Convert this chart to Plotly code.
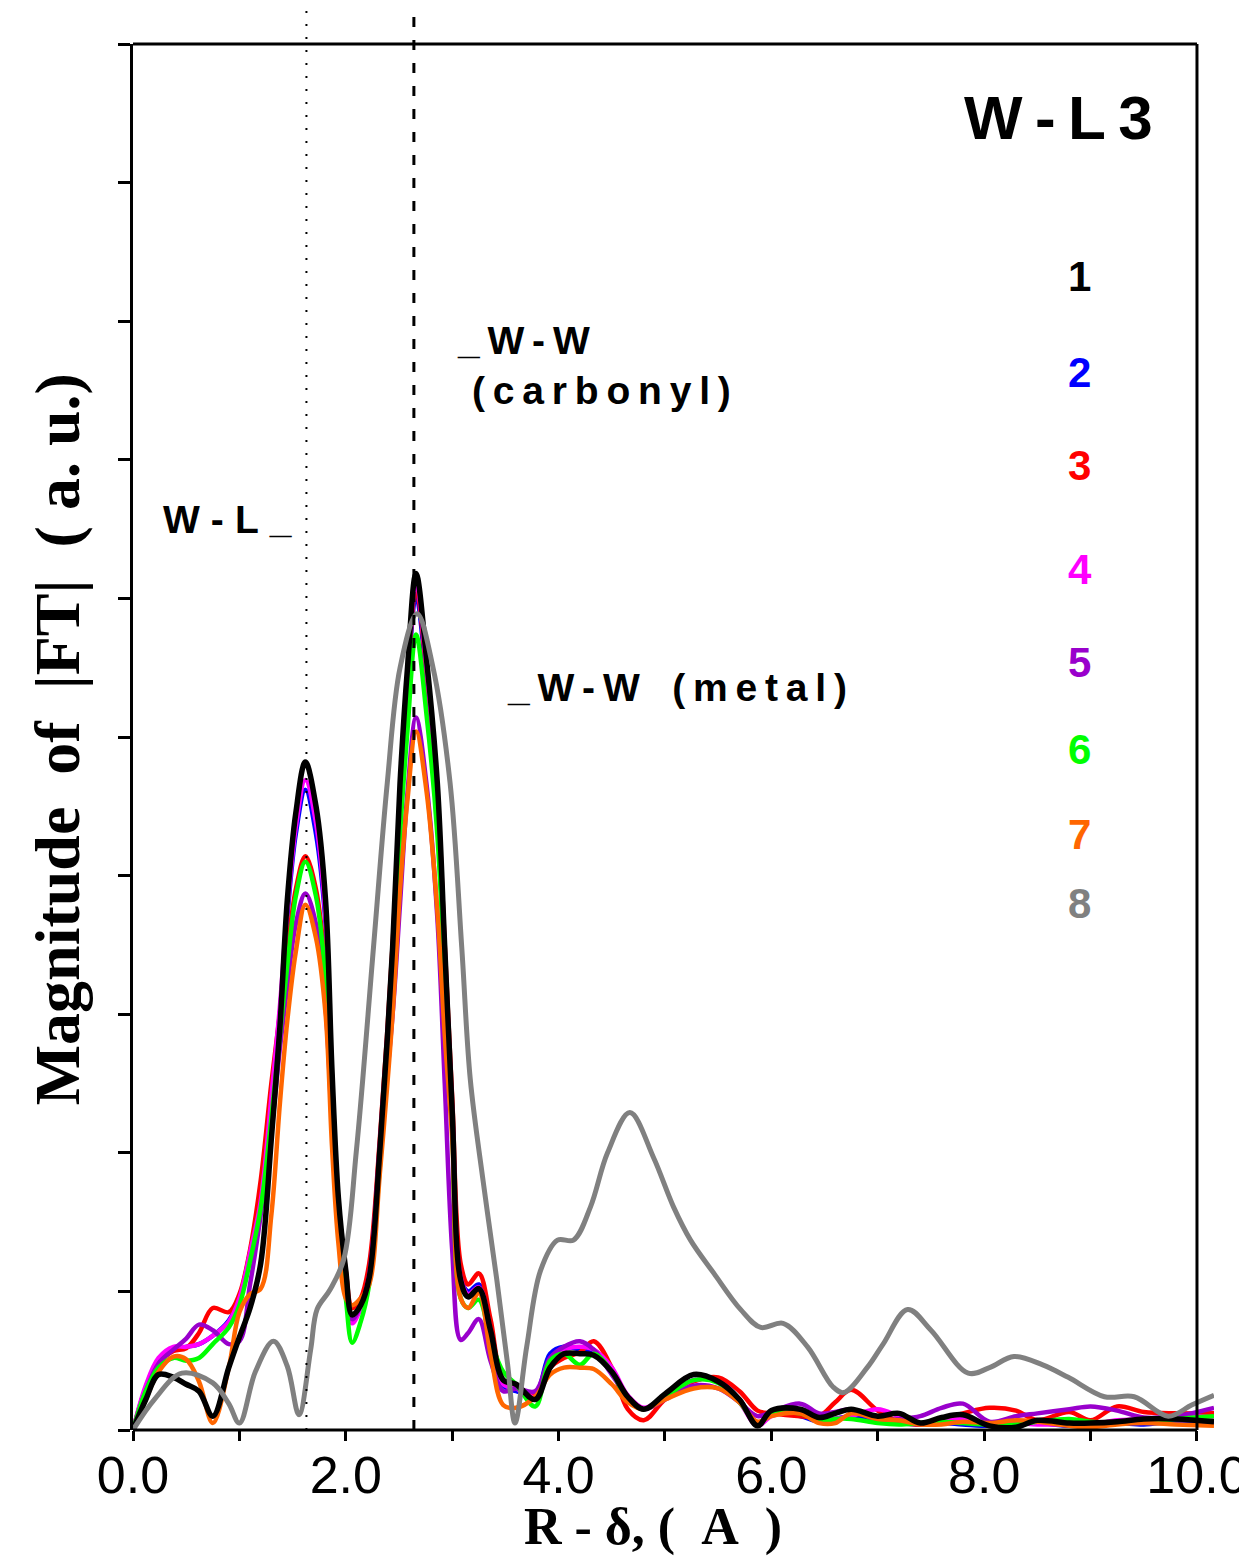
import plotly.graph_objects as go

# ---------------- data ----------------
R_grid = [0, 0.12, 0.24, 0.38, 0.5, 0.62, 0.75, 0.9, 1.0, 1.1, 1.2, 1.3,
          1.38, 1.45, 1.53, 1.62, 1.72, 1.81, 1.87, 1.93, 2.0,
          2.06, 2.14, 2.22, 2.32, 2.44, 2.51, 2.58, 2.66, 2.76, 2.86, 2.93, 3.0, 3.08,
          3.15, 3.25, 3.36, 3.48, 3.6, 3.78, 3.92, 4.05, 4.2, 4.33, 4.5, 4.65, 4.8,
          5.0, 5.27, 5.5, 5.7, 5.87, 6.0, 6.27, 6.45, 6.6, 6.75, 7.0, 7.2, 7.4, 7.6,
          7.8, 8.05, 8.3, 8.5, 8.8, 9.0, 9.25, 9.5, 9.8, 10.16]

ft1 = [0, 0.22, 0.40, 0.38, 0.33, 0.28, 0.10, 0.45, 0.67, 0.88, 1.2, 2.1,
       2.9, 3.82, 4.45, 4.82, 4.5, 3.82, 2.6, 1.68, 1.15,
       0.83, 0.9, 1.1, 2.02, 3.48, 4.67, 5.5, 6.18, 5.55, 4.67, 3.48, 2.3, 1.08,
       0.96, 1.02, 0.72, 0.36, 0.33, 0.22, 0.45, 0.55, 0.55, 0.54, 0.42, 0.24, 0.15,
       0.26, 0.4, 0.35, 0.22, 0.03, 0.14, 0.15, 0.09, 0.12, 0.15, 0.1, 0.12, 0.05, 0.09,
       0.11, 0.03, 0.02, 0.07, 0.05, 0.05, 0.06, 0.08, 0.08, 0.06]

ft2 = [0, 0.3, 0.5, 0.58, 0.6, 0.62, 0.68, 0.79, 0.95, 1.28, 1.7, 2.4,
       3.0, 3.7, 4.3, 4.62, 4.3, 3.65, 2.5, 1.6, 1.1,
       0.8, 0.9, 1.15, 2.0, 3.4, 4.5, 5.35, 6.02, 5.4, 4.55, 3.4, 2.3, 1.1,
       1.0, 1.05, 0.72, 0.32, 0.28, 0.26, 0.55, 0.6, 0.58, 0.55, 0.42, 0.24, 0.15,
       0.24, 0.36, 0.36, 0.22, 0.05, 0.12, 0.1, 0.06, 0.08, 0.1, 0.06, 0.05, 0.04, 0.05,
       0.04, 0.03, 0.04, 0.05, 0.03, 0.04, 0.05, 0.04, 0.06, 0.05]

ft3 = [0, 0.3, 0.48, 0.57, 0.59, 0.7, 0.88, 0.85, 0.98, 1.3, 1.8, 2.5,
       3.0, 3.45, 3.9, 4.14, 3.9, 3.3, 2.4, 1.6, 1.15,
       0.88, 0.95, 1.2, 2.1, 3.5, 4.55, 5.4, 6.07, 5.45, 4.6, 3.5, 2.4, 1.2,
       1.05, 1.13, 0.8, 0.36, 0.32, 0.25, 0.45, 0.52, 0.56, 0.64, 0.45, 0.15, 0.07,
       0.22, 0.35, 0.38, 0.28, 0.14, 0.12, 0.1, 0.1, 0.2, 0.29, 0.14, 0.06, 0.04, 0.08,
       0.12, 0.16, 0.14, 0.07, 0.13, 0.07, 0.17, 0.13, 0.12, 0.12]

ft4 = [0, 0.32, 0.52, 0.6, 0.6, 0.62, 0.68, 0.78, 0.95, 1.28, 1.65, 2.4,
       3.05, 3.75, 4.35, 4.69, 4.38, 3.7, 2.55, 1.62, 1.08,
       0.77, 0.88, 1.12, 2.05, 3.45, 4.55, 5.42, 6.12, 5.48, 4.6, 3.45, 2.3, 1.1,
       0.98, 1.03, 0.72, 0.33, 0.3, 0.24, 0.5, 0.58, 0.6, 0.58, 0.45, 0.25, 0.16,
       0.24, 0.36, 0.35, 0.2, 0.03, 0.1, 0.13, 0.06, 0.08, 0.1, 0.15, 0.1, 0.05, 0.06,
       0.08, 0.04, 0.05, 0.04, 0.04, 0.04, 0.07, 0.08, 0.1, 0.09]

ft5 = [0, 0.28, 0.48, 0.58, 0.66, 0.76, 0.72, 0.62, 0.64, 1.05, 1.55, 2.15,
       2.75, 3.2, 3.65, 3.87, 3.65, 3.05, 2.2, 1.5, 1.05,
       0.8, 0.9, 1.1, 2.0, 3.0, 3.8, 4.6, 5.14, 4.65, 3.7, 2.5, 1.3, 0.65,
       0.7, 0.8, 0.5, 0.28, 0.3, 0.28, 0.52, 0.6, 0.64, 0.58, 0.4, 0.24, 0.15,
       0.22, 0.32, 0.3, 0.2, 0.1, 0.13, 0.19, 0.12, 0.13, 0.15, 0.07, 0.08, 0.1, 0.16,
       0.19, 0.06, 0.1, 0.12, 0.15, 0.17, 0.14, 0.09, 0.1, 0.16]

ft6 = [0, 0.28, 0.45, 0.52, 0.5, 0.52, 0.62, 0.74, 0.9, 1.22, 1.6, 2.25,
       2.85, 3.35, 3.85, 4.1, 3.85, 3.25, 2.3, 1.45, 0.95,
       0.63, 0.78, 1.05, 1.9, 3.25, 4.3, 5.05, 5.74, 5.15, 4.3, 3.25, 2.2, 0.95,
       0.88, 0.94, 0.65, 0.42, 0.33, 0.17, 0.5, 0.55, 0.47, 0.55, 0.42, 0.22, 0.15,
       0.24, 0.36, 0.34, 0.2, 0.05, 0.11, 0.12, 0.06, 0.08, 0.08, 0.05, 0.04, 0.05, 0.06,
       0.05, 0.04, 0.04, 0.06, 0.08, 0.06, 0.05, 0.06, 0.08, 0.1]

ft7 = [0, 0.22, 0.42, 0.53, 0.51, 0.35, 0.05, 0.45, 0.85, 0.98, 1.02, 1.55,
       2.35, 2.95, 3.45, 3.79, 3.55, 3.0, 2.05, 1.35, 0.95,
       0.9, 0.95, 1.05, 1.85, 3.0, 3.9, 4.55, 5.04, 4.6, 3.75, 2.85, 2.1, 0.95,
       0.88, 0.99, 0.55, 0.18, 0.16, 0.24, 0.4, 0.45, 0.45, 0.44, 0.33, 0.2, 0.15,
       0.22, 0.3, 0.3, 0.2, 0.06, 0.1, 0.12, 0.05, 0.05, 0.12, 0.08, 0.07, 0.04, 0.04,
       0.06, 0.05, 0.07, 0.06, 0.03, 0.02, 0.04, 0.05, 0.04, 0.03]

R8 = [0, 0.2, 0.46, 0.75, 0.9, 1.0, 1.15, 1.32, 1.45, 1.56, 1.67, 1.73, 1.85, 1.98,
      2.1, 2.26, 2.39, 2.51, 2.67, 2.82, 2.98, 3.09, 3.17, 3.29, 3.42, 3.52, 3.59,
      3.7, 3.83, 3.99, 4.14, 4.3, 4.46, 4.67, 4.89, 5.08, 5.24, 5.46, 5.71, 5.9,
      6.11, 6.34, 6.58, 6.68, 6.9, 7.05, 7.28, 7.5, 7.85, 8.05, 8.28, 8.55, 8.79,
      9.13, 9.41, 9.73, 9.95, 10.16]
ft8 = [0, 0.22, 0.41, 0.34, 0.19, 0.05, 0.42, 0.64, 0.46, 0.11, 0.58, 0.87, 1.01, 1.23,
       2.02, 3.48, 4.67, 5.5, 5.89, 5.5, 4.67, 3.48, 2.53, 1.8, 1.08, 0.48, 0.05,
       0.6, 1.15, 1.37, 1.37, 1.61, 2.0, 2.29, 1.97, 1.61, 1.37, 1.13, 0.87, 0.74,
       0.77, 0.6, 0.31, 0.27, 0.45, 0.62, 0.87, 0.72, 0.41, 0.45, 0.53, 0.47, 0.38,
       0.24, 0.24, 0.1, 0.18, 0.25]

series_names = ["1", "2", "3", "4", "5", "6", "7", "8"]
series_colors = ["#000000", "#0000FF", "#FF0000", "#FF00FF", "#9900CC",
                 "#00FF00", "#FF6600", "#808080"]

x_tick_vals = [0, 1, 2, 3, 4, 5, 6, 7, 8, 9, 10]
x_tick_text = ["0.0", "", "2.0", "", "4.0", "", "6.0", "", "8.0", "", "10.0"]
y_tick_vals = [0, 1, 2, 3, 4, 5, 6, 7, 8, 9, 10]

R_WL = 1.63      # dotted reference line
R_WW = 2.64      # dashed reference line

# ---------------- figure ----------------
THIN = "\u2009"
HAIR = "\u200a"
NB = "\u00a0"


def spaced(s, sep=THIN):
    return sep.join(list(s))


fig = go.Figure()

ys = [ft1, ft2, ft3, ft4, ft5, ft6, ft7]
draw_order = [1, 2, 3, 4, 5, 6, 0]
for i in draw_order:
    fig.add_trace(go.Scatter(
        x=R_grid, y=ys[i], mode="lines", name=series_names[i],
        line=dict(color=series_colors[i], width=5.5 if i == 0 else 4.5,
                  shape="spline", smoothing=1.0),
        showlegend=False))
fig.add_trace(go.Scatter(
    x=R8, y=ft8, mode="lines", name=series_names[7],
    line=dict(color=series_colors[7], width=5, shape="spline", smoothing=1.0),
    showlegend=False))

# reference lines
fig.add_shape(type="line", xref="x", yref="paper", x0=R_WL, x1=R_WL, y0=0, y1=1.032,
              line=dict(color="black", width=2, dash="2px,11px"))
fig.add_shape(type="line", xref="x", yref="paper", x0=R_WW, x1=R_WW, y0=0, y1=1.032,
              line=dict(color="black", width=3, dash="10px,13px"))

# frame (bottom, top, right)
frame = dict(color="black", width=3)
fig.add_shape(type="line", xref="x", yref="paper", x0=0, x1=10, y0=0, y1=0, line=frame)
fig.add_shape(type="line", xref="x", yref="paper", x0=0, x1=10, y0=1, y1=1, line=frame)
fig.add_shape(type="line", xref="x", yref="paper", x0=10, x1=10, y0=0, y1=1, line=frame)

lab_font = dict(family="Liberation Sans, Arial, sans-serif", size=39, color="black")
ann = []
ann.append(dict(x=1.52, y=6.57, xref="x", yref="y", xanchor="right", yanchor="middle",
                text="<b>" + spaced("W-L_", THIN + HAIR) + "</b>", showarrow=False,
                font=lab_font))
ann.append(dict(x=3.03, y=7.86, xref="x", yref="y", xanchor="left", yanchor="middle",
                text="<b>" + spaced("_W-W") + "</b>", showarrow=False, font=lab_font))
ann.append(dict(x=3.17, y=7.50, xref="x", yref="y", xanchor="left", yanchor="middle",
                text="<b>" + spaced("(carbonyl)") + "</b>", showarrow=False, font=lab_font))
ann.append(dict(x=3.5, y=5.36, xref="x", yref="y", xanchor="left", yanchor="middle",
                text="<b>" + spaced("_W-W") + NB + NB + NB + spaced("(metal)", THIN) + "</b>",
                showarrow=False, font=lab_font))
ann.append(dict(x=9.61, y=9.47, xref="x", yref="y", xanchor="right", yanchor="middle",
                text="<b>" + spaced("W-L3", THIN) + "</b>", showarrow=False,
                font=dict(family="Liberation Sans, Arial, sans-serif", size=62, color="black")))

legend_y = [8.32, 7.63, 6.96, 6.21, 5.54, 4.91, 4.30, 3.80]
for name, col, yy in zip(series_names, series_colors, legend_y):
    ann.append(dict(x=8.9, y=yy, xref="x", yref="y", xanchor="center", yanchor="middle",
                    text="<b>" + name + "</b>", showarrow=False,
                    font=dict(family="Liberation Sans, Arial, sans-serif", size=42, color=col)))

serif = "Liberation Serif, Times New Roman, serif"
ann.append(dict(x=-0.069, y=0.4986, xref="paper", yref="paper", xanchor="center",
                yanchor="middle", textangle=-90, showarrow=False,
                text="<b>Magnitude" + NB + NB + "of" + NB + NB + "|FT|" + NB + NB + "(" + NB
                     + "a." + NB + "u.)</b>",
                font=dict(family=serif, size=64, color="black")))
ann.append(dict(x=0.481, y=-0.0916, xref="paper", yref="paper", xanchor="center",
                yanchor="bottom", showarrow=False, borderpad=0,
                text="<b>R" + NB + "-" + NB + "δ," + NB + "(" + NB + NB + "A" + NB + NB + ")</b>",
                font=dict(family=serif, size=52, color="black")))

# The page body has an 8px margin, so the figure is sized/offset to compensate.
fig.update_layout(
    width=1231, height=1549,
    margin=dict(l=125, r=25, t=36, b=127, autoexpand=False),
    paper_bgcolor="white", plot_bgcolor="white",
    annotations=ann,
    xaxis=dict(range=[0, 10.16], tickvals=x_tick_vals, ticktext=x_tick_text,
               ticks="outside", ticklen=10, tickwidth=3, tickcolor="black",
               showline=False, showgrid=False, zeroline=False, automargin=False,
               ticklabelstandoff=-10, ticklabeloverflow="allow",
               tickfont=dict(family="Liberation Sans, Arial, sans-serif", size=52,
                             color="black")),
    yaxis=dict(range=[0, 10], tickvals=y_tick_vals, showticklabels=False,
               ticks="outside", ticklen=12, tickwidth=3, tickcolor="black",
               showline=True, linewidth=3, linecolor="black", automargin=False,
               showgrid=False, zeroline=False),
)

fig.write_html("out.html")
